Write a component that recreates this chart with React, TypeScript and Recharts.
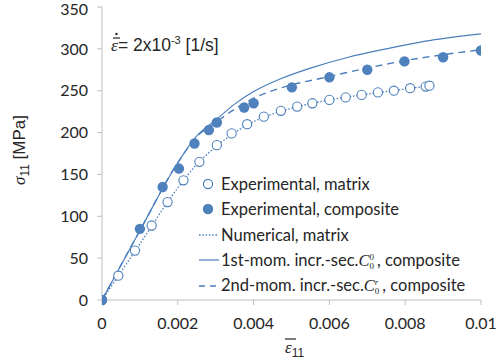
import { ComposedChart, Line, Scatter, XAxis, YAxis, Legend } from "recharts";

const xTicks = [0, 0.002, 0.004, 0.006, 0.008, 0.01];
const yTicks = [0, 50, 100, 150, 200, 250, 300, 350];

// experimental, matrix (open circles)
const matrixStrain = [0, 0.00043, 0.00087, 0.00131, 0.00173, 0.00215, 0.00257, 0.00303, 0.00342, 0.00383, 0.00427, 0.00472, 0.00515, 0.00555, 0.006, 0.00643, 0.00685, 0.00728, 0.0077, 0.00813, 0.00854, 0.00864];
const matrixStress = [0, 29, 59, 89, 117, 143, 165, 185, 199, 210, 219, 226, 231, 235, 239, 242, 245, 248, 250, 253, 255, 256];

// experimental, composite (filled circles)
const compStrain = [0, 0.001, 0.0016, 0.00203, 0.00244, 0.00282, 0.00303, 0.00375, 0.004, 0.00501, 0.006, 0.007, 0.00798, 0.009, 0.01];
const compStress = [0, 85, 135, 157, 187, 203, 212, 230, 235, 254, 266, 275, 285, 290, 298];

// numerical, matrix (dotted)
const numStrain = [0, 0.001, 0.002, 0.0025, 0.003, 0.0035, 0.004, 0.005, 0.006, 0.007, 0.008, 0.00865];
const numStress = [0, 67, 134, 162, 183, 200, 213, 229, 239, 246, 252, 256];

// 1st-moment model (solid)
const firstStrain = [0, 0.001, 0.002, 0.0025, 0.003, 0.0035, 0.004, 0.0047, 0.0055, 0.0065, 0.0075, 0.0085, 0.01];
const firstStress = [0, 83, 164, 196, 215, 234, 249, 264, 277, 290, 300, 309, 318];

// 2nd-moment model (dashed)
const secondStrain = [0, 0.001, 0.002, 0.0025, 0.003, 0.0035, 0.004, 0.0047, 0.006, 0.007, 0.008, 0.009, 0.01];
const secondStress = [0, 83, 164, 195, 212, 228, 241, 253, 267, 277, 286, 293, 299];

const zip = (xs: number[], ys: number[]) => xs.map((x, i) => ({ x, y: ys[i] }));

const matrixData = zip(matrixStrain, matrixStress);
const compData = zip(compStrain, compStress);
const numData = zip(numStrain, numStress);
const firstData = zip(firstStrain, firstStress);
const secondData = zip(secondStrain, secondStress);

const blue = "#4a7ebb";
const fillBlue = "#4f81bd";
const font = "Lato, 'Liberation Sans', sans-serif";
const arial = "'Liberation Sans', Arial, sans-serif";
const ink = "#262626";

const OpenDot = (p: any) => (
  <circle cx={p.cx} cy={p.cy} r={4.6} fill="#fff" stroke={blue} strokeWidth={1.1} />
);
const FilledDot = (p: any) => <circle cx={p.cx} cy={p.cy} r={5.2} fill={fillBlue} />;

const CSym = ({ sup }: { sup: string }) => (
  <span style={{ whiteSpace: "nowrap", marginRight: 3 }}>
    <span style={{ fontFamily: "'Liberation Serif', serif", fontStyle: "italic" }}>C</span>
    <span style={{ display: "inline-flex", flexDirection: "column", fontSize: 9, lineHeight: "9px", verticalAlign: "middle", fontFamily: "'Liberation Serif', serif", fontStyle: sup === "r" ? "italic" : "normal" }}>
      <span>{sup}</span>
      <span style={{ fontStyle: "normal" }}>0</span>
    </span>
  </span>
);

const legendRows = [
  { kind: "open", text: <>Experimental, matrix</> },
  { kind: "filled", text: <>Experimental, composite</> },
  { kind: "dotted", text: <>Numerical, matrix</> },
  { kind: "solid", text: <>1st-mom. incr.-sec.<CSym sup="0" />, composite</> },
  { kind: "dashed", text: <>2nd-mom. incr.-sec.<CSym sup="r" />, composite</> },
];

const LegendIcon = ({ kind }: { kind: string }) => (
  <svg width={21} height={14} style={{ flex: "none" }}>
    {kind === "open" && <circle cx={9} cy={7} r={4.6} fill="#fff" stroke={blue} strokeWidth={1.1} />}
    {kind === "filled" && <circle cx={9} cy={7} r={5.2} fill={fillBlue} />}
    {kind === "dotted" && <line x1={0} x2={20} y1={7} y2={7} stroke={blue} strokeWidth={1.3} strokeDasharray="1.5 1.8" />}
    {kind === "solid" && <line x1={0} x2={20} y1={7} y2={7} stroke={blue} strokeWidth={1.2} />}
    {kind === "dashed" && <line x1={0} x2={20} y1={7} y2={7} stroke={blue} strokeWidth={1.3} strokeDasharray="6 5" />}
  </svg>
);

const renderLegend = () => (
  <div style={{ fontFamily: font, fontSize: 16.5, color: ink }}>
    {legendRows.map((r, i) => (
      <div key={i} style={{ display: "flex", alignItems: "center", height: 25.5 }}>
        <LegendIcon kind={r.kind} />
        <span style={{ marginLeft: 1 }}>{r.text}</span>
      </div>
    ))}
  </div>
);

const fmtX = (v: number) => (v === 0 ? "0" : String(Number(v.toFixed(3))));

export default function App() {
  return (
    <div style={{ position: "absolute", left: 0, top: 0 }}>
      <ComposedChart width={496} height={363} margin={{ top: 7, right: 15, bottom: 0, left: 0 }}>
        <XAxis
          dataKey="x"
          type="number"
          domain={[0, 0.01]}
          ticks={xTicks}
          tickFormatter={fmtX}
          height={63}
          stroke="#bfbfbf"
          tickSize={5}
          tickMargin={13}
          tick={{ fill: ink, fontSize: 16, fontFamily: font }}
          allowDataOverflow
        />
        <XAxis xAxisId="top" orientation="top" type="number" domain={[0, 0.01]} tick={false} tickLine={false} height={0} stroke="#898989" strokeWidth={1.5} />
        <YAxis
          dataKey="y"
          type="number"
          domain={[0, 350]}
          ticks={yTicks}
          width={102}
          stroke="#bfbfbf"
          tickSize={5}
          tickMargin={9}
          tick={{ fill: ink, fontSize: 16, fontFamily: font }}
        />
        <YAxis yAxisId="right" orientation="right" type="number" domain={[0, 350]} tick={false} tickLine={false} width={0} stroke="#898989" strokeWidth={1.5} />

        <Line data={numData} dataKey="y" type="monotone" stroke={blue} strokeWidth={1.3} strokeDasharray="1.5 1.8" dot={false} isAnimationActive={false} />
        <Line data={firstData} dataKey="y" type="monotone" stroke={blue} strokeWidth={1.2} dot={false} isAnimationActive={false} />
        <Line data={secondData} dataKey="y" type="monotone" stroke={blue} strokeWidth={1.4} strokeDasharray="7 5" dot={false} isAnimationActive={false} />
        <Scatter data={matrixData} dataKey="y" shape={OpenDot} isAnimationActive={false} />
        <Scatter data={compData} dataKey="y" shape={FilledDot} isAnimationActive={false} />

        <Legend
          layout="horizontal"
          verticalAlign="middle"
          align="center"
          content={renderLegend}
          wrapperStyle={{ position: "absolute", left: 199, top: 171, width: 295 }}
        />

        <g fontFamily={arial} fill={ink}>
          <text x={111} y={51} fontSize={17.5}>
            <tspan fontFamily="'Liberation Serif', serif" fontStyle="italic">ε</tspan>
            <tspan>= 2x10</tspan>
            <tspan fontSize={11} dy={-7}>-3</tspan>
            <tspan dy={7}> [1/s]</tspan>
          </text>
          <circle cx={116.5} cy={34} r={1.2} fill={ink} />
          <line x1={113} x2={120} y1={38} y2={38} stroke={ink} strokeWidth={1.2} />
        </g>

        <g fill={ink} fontFamily={arial}>
          <text transform="translate(25,150) rotate(-90)" textAnchor="middle" fontSize={17}>
            <tspan fontFamily="'Liberation Serif', serif" fontStyle="italic">σ</tspan>
            <tspan fontSize={12} dy={4}>11</tspan>
            <tspan dy={-4}> [MPa]</tspan>
          </text>
          <text x={285} y={353} fontSize={17}>
            <tspan fontFamily="'Liberation Serif', serif" fontStyle="italic">ε</tspan>
            <tspan fontSize={12} dy={4}>11</tspan>
          </text>
          <line x1={285} x2={296} y1={339} y2={339} stroke={ink} strokeWidth={1.2} />
        </g>
      </ComposedChart>
    </div>
  );
}
